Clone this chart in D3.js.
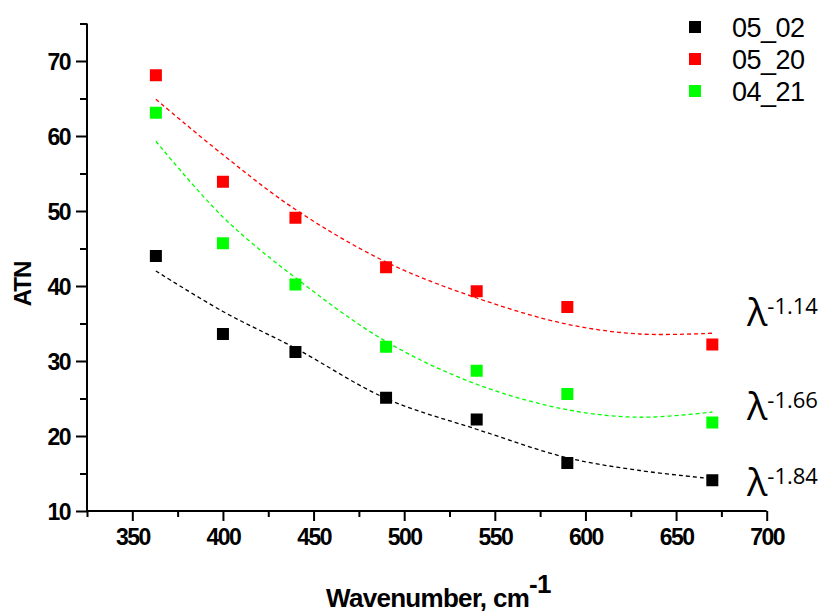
<!DOCTYPE html>
<html>
<head>
<meta charset="utf-8">
<script src="https://cdn.jsdelivr.net/npm/d3@7"></script>
<style>
  html, body { margin: 0; padding: 0; background: #fff; }
  svg { display: block; }
  .tick text { font-family: "Liberation Sans", Arial, sans-serif; font-weight: bold; }
</style>
</head>
<body>
<svg id="chart" width="821" height="612"></svg>
<script>
// ---- data ----
const wavenumber = [363, 400, 440, 490, 540, 590, 670];
const series0502 = [44.0, 33.6, 31.2, 25.1, 22.2, 16.4, 14.1];
const series0520 = [68.1, 53.9, 49.1, 42.5, 39.3, 37.2, 32.2];
const series0421 = [63.1, 45.7, 40.2, 31.9, 28.7, 25.6, 21.8];
const fitX = [363, 400, 440, 490, 540, 590, 630, 670];
const fit0502 = [42.0, 36.6, 31.7, 25.0, 20.9, 17.1, 15.4, 14.3];
const fit0520 = [64.9, 57.5, 50.2, 43.2, 38.4, 34.9, 33.6, 33.7];
const fit0421 = [59.3, 49.2, 41.1, 32.6, 26.9, 23.5, 22.5, 23.2];
const seriesNames = ["05_02", "05_20", "04_21"];
const exponentLabels = ["-1.14", "-1.66", "-1.84"];
const xMajorTicks = [350, 400, 450, 500, 550, 600, 650, 700];
const xMinorTicks = [325, 375, 425, 475, 525, 575, 625, 675];
const yMajorTicks = [10, 20, 30, 40, 50, 60, 70];
const yMinorTicks = [15, 25, 35, 45, 55, 65, 75];

// ---- layout ----
const colors = ["#000000", "#ff0000", "#00ff00"];
const svg = d3.select("#chart");
const x = d3.scaleLinear().domain([325, 700]).range([87, 766.7]);
const y = d3.scaleLinear().domain([10, 75]).range([511, 23.5]);

const seriesVals = [series0502, series0520, series0421];
const fitVals = [fit0502, fit0520, fit0421];

// axes
const gx = svg.append("g").attr("transform", `translate(0,${y(10)})`);
gx.call(d3.axisBottom(x).tickValues(xMajorTicks).tickSize(10).tickPadding(6).tickFormat(d3.format("d")));
const gxm = svg.append("g").attr("transform", `translate(0,${y(10)})`);
gxm.call(d3.axisBottom(x).tickValues(xMinorTicks).tickSize(6).tickFormat(""));

const gy = svg.append("g").attr("transform", `translate(${x(325)},0)`);
gy.call(d3.axisLeft(y).tickValues(yMajorTicks).tickSize(11).tickPadding(6).tickFormat(d3.format("d")));
const gym = svg.append("g").attr("transform", `translate(${x(325)},0)`);
gym.call(d3.axisLeft(y).tickValues(yMinorTicks).tickSize(7).tickFormat(""));

[gx, gxm, gy, gym].forEach(g => {
  g.select(".domain").attr("stroke", "#000").attr("stroke-width", 2);
  g.selectAll(".tick line").attr("stroke", "#000").attr("stroke-width", 2);
});
gx.selectAll(".tick text").attr("font-size", 23).attr("letter-spacing", "-1.5px").attr("fill", "#000").attr("dy", "0.78em");
gy.selectAll(".tick text").attr("font-size", 23).attr("letter-spacing", "-1.5px").attr("fill", "#000").attr("dy", "0.36em");
gx.select(".domain").attr("d", `M${x(325)},0H${x(700)}`);
gxm.select(".domain").remove();
gy.select(".domain").attr("d", `M0,${y(10)}V${y(75)}`);
gym.select(".domain").remove();

// axis titles
svg.append("text")
  .attr("transform", `translate(31,284) rotate(-90)`)
  .attr("text-anchor", "middle")
  .attr("font-family", "Liberation Sans, Arial, sans-serif")
  .attr("font-weight", "bold")
  .attr("font-size", 24)
  .attr("letter-spacing", "-1px")
  .text("ATN");

const xt = svg.append("text")
  .attr("x", 326).attr("y", 607)
  .attr("font-family", "Liberation Sans, Arial, sans-serif")
  .attr("font-weight", "bold")
  .attr("font-size", 26)
  .attr("letter-spacing", "-0.7px");
xt.append("tspan").text("Wavenumber, cm");
xt.append("tspan").attr("dy", -14).attr("font-size", 26).text("-1");

// fit curves
const line = d3.line().x(d => x(d[0])).y(d => y(d[1])).curve(d3.curveCatmullRom.alpha(0.5));
fitVals.forEach((fv, i) => {
  svg.append("path")
    .datum(fitX.map((xv, j) => [xv, fv[j]]))
    .attr("fill", "none")
    .attr("stroke", colors[i])
    .attr("stroke-width", 1.3)
    .attr("stroke-dasharray", "4,3")
    .attr("d", line);
});

// points
const sq = 12;
seriesVals.forEach((sv, i) => {
  svg.append("g").selectAll("rect")
    .data(wavenumber.map((xv, j) => [xv, sv[j]]))
    .join("rect")
    .attr("x", d => x(d[0]) - sq / 2)
    .attr("y", d => y(d[1]) - sq / 2)
    .attr("width", sq).attr("height", sq)
    .attr("fill", colors[i]);
});

// legend
const legendRowsY = [27, 59, 91];
seriesNames.forEach((name, i) => {
  svg.append("rect")
    .attr("x", 689).attr("y", legendRowsY[i] - 6)
    .attr("width", 12).attr("height", 12)
    .attr("fill", colors[i]);
  svg.append("text")
    .attr("x", 732).attr("y", legendRowsY[i] + 10)
    .attr("font-family", "Liberation Sans, Arial, sans-serif")
    .attr("font-size", 27)
    .attr("letter-spacing", "-0.5px")
    .attr("fill", "#000")
    .text(name);
});

// lambda exponent labels
const lambdaBaselines = [326, 420, 496];
exponentLabels.forEach((lab, i) => {
  const t = svg.append("text")
    .attr("x", 747).attr("y", lambdaBaselines[i])
    .attr("font-family", "Open Sans, sans-serif")
    .attr("fill", "#000");
  t.append("tspan").attr("font-size", 38).text("λ");
  t.append("tspan").attr("font-size", 22).attr("dy", -12).text(lab);
});
</script>
</body>
</html>
